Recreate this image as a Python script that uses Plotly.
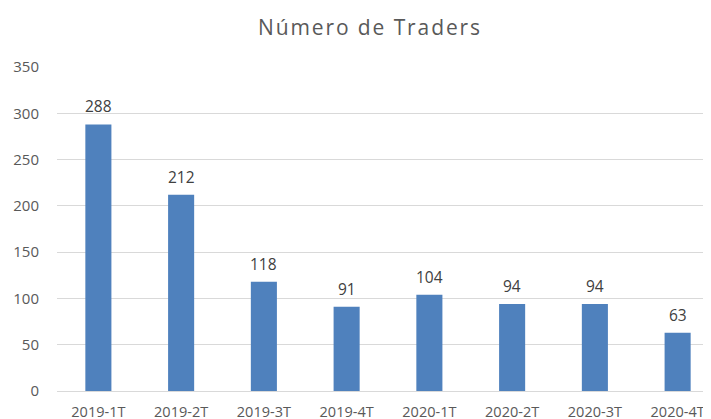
import plotly.graph_objects as go

categories = ["2019-1T", "2019-2T", "2019-3T", "2019-4T", "2020-1T", "2020-2T", "2020-3T", "2020-4T"]
values = [288, 212, 118, 91, 104, 94, 94, 63]
y_ticks = [0, 50, 100, 150, 200, 250, 300, 350]

fig = go.Figure(
    go.Bar(
        x=categories,
        y=values,
        width=0.315,
        marker=dict(color="#4F81BD", line=dict(width=0)),
        hoverinfo="x+y",
    )
)

for c, v in zip(categories, values):
    fig.add_annotation(
        x=c,
        y=v,
        text=str(v),
        showarrow=False,
        yanchor="middle",
        yshift=18,
        font=dict(family="Open Sans", size=15.5, color="#404040"),
    )

fig.update_layout(
    width=711,
    height=419,
    margin=dict(l=49, r=0, t=59, b=36, autoexpand=False),
    paper_bgcolor="white",
    plot_bgcolor="white",
    showlegend=False,
    title=dict(
        text='<span style="letter-spacing:1.9px">Número de Traders</span>',
        x=362 / 711,
        xanchor="center",
        xref="container",
        y=1 - 20 / 419,
        yanchor="middle",
        font=dict(family="Open Sans", size=21, color="#595959"),
    ),
    xaxis=dict(
        type="category",
        range=[-0.5, 7.5],
        showgrid=False,
        showline=True,
        linecolor="#D9D9D9",
        linewidth=1,
        ticks="",
        ticklabelstandoff=8,
        tickfont=dict(family="Open Sans", size=14.5, color="#595959"),
    ),
    yaxis=dict(
        range=[0, 350],
        tickvals=y_ticks,
        showgrid=True,
        gridcolor="#D9D9D9",
        gridwidth=1,
        zeroline=False,
        showline=False,
        ticks="",
        ticklabelstandoff=17,
        tickfont=dict(family="Open Sans", size=15, color="#595959"),
    ),
)

fig.write_html("out.html")
